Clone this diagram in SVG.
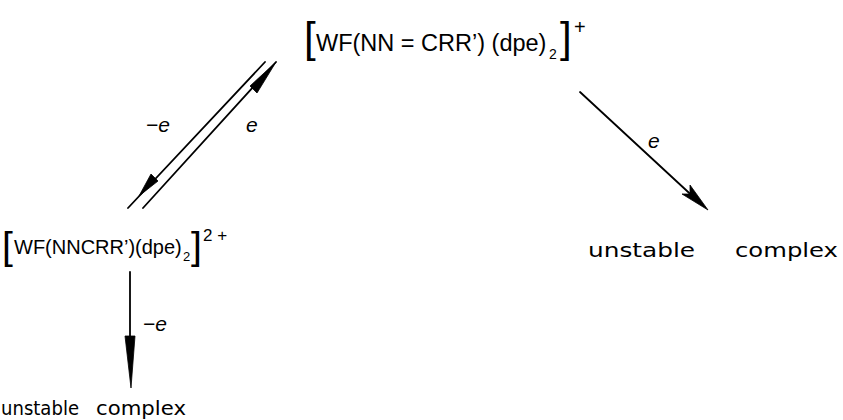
<svg xmlns="http://www.w3.org/2000/svg" width="843" height="420" viewBox="0 0 843 420">
<style>
  .f { font-family: "Liberation Sans", "DejaVu Sans", sans-serif; fill: #000; }
  .w { font-family: "DejaVu Sans", "Liberation Sans", sans-serif; fill: #000; }
  .br { font-family: "Liberation Sans", sans-serif; fill: #000; }
  .lab { font-family: "Liberation Sans", sans-serif; font-style: italic; fill: #000; font-size: 21px; }
  .ln { stroke: #000; stroke-width: 1.8; fill: none; stroke-linecap: round; }
  .ah { fill: #000; stroke: #000; stroke-width: 0.8; stroke-linejoin: round; }
</style>
<rect width="843" height="420" fill="#fff"/>

<g id="n-top">
  <text class="br" x="304" y="52" font-size="42">[</text>
  <text class="f" x="316" y="51" font-size="23.5">WF(NN = CRR’) (dpe)</text>
  <text class="f" x="549" y="59" font-size="14">2</text>
  <text class="br" x="560" y="52" font-size="42">]</text>
  <text class="f" x="574" y="34" font-size="20">+</text>
</g>

<g id="n-mid">
  <text class="br" x="2" y="259" font-size="39">[</text>
  <text class="f" x="14" y="254" font-size="20">WF(NNCRR’)(dpe)</text>
  <text class="f" x="183" y="261" font-size="13">2</text>
  <text class="br" x="191" y="259" font-size="39">]</text>
  <text class="f" x="203" y="241" font-size="17">2 +</text>
</g>

<g id="n-unstable-right">
  <text class="w" x="588" y="257" font-size="20" textLength="107" lengthAdjust="spacingAndGlyphs">unstable</text>
  <text class="w" x="735" y="257" font-size="20" textLength="103" lengthAdjust="spacingAndGlyphs">complex</text>
</g>

<g id="n-unstable-bottom">
  <text class="w" x="1" y="415" font-size="19" textLength="78" lengthAdjust="spacingAndGlyphs">unstable</text>
  <text class="w" x="96" y="415" font-size="19" textLength="90" lengthAdjust="spacingAndGlyphs">complex</text>
</g>

<g id="connectors">
  <line class="ln" x1="265" y1="62" x2="128" y2="208"/>
  <polygon class="ah" points="139,196 151,174 158,181"/>
  <line class="ln" x1="276" y1="62" x2="143" y2="208"/>
  <polygon class="ah" points="276,62 250,86 257,93"/>
  <text class="lab" x="146" y="132">−e</text>
  <text class="lab" x="246" y="132">e</text>

  <line class="ln" x1="580" y1="92" x2="700" y2="203"/>
  <polygon class="ah" points="708,210 690,185 690,194 682,194"/>
  <text class="lab" x="648" y="148">e</text>

  <line class="ln" x1="130" y1="272" x2="130" y2="340"/>
  <polygon class="ah" points="125,336 135,336 131,388"/>
  <text class="lab" x="143" y="331">−e</text>
</g>
</svg>
